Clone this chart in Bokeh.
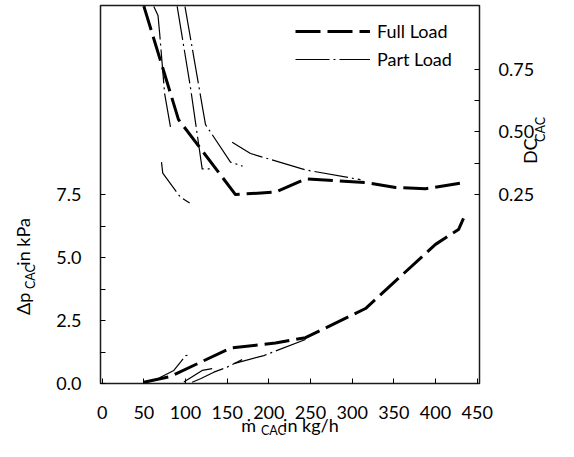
from math import pi
from bokeh.plotting import figure
from bokeh.models import (Range1d, LinearAxis, FixedTicker, NumeralTickFormatter,
                          Legend, LegendItem)
from bokeh.embed import file_html
from bokeh.resources import INLINE

# ---------------- data ----------------
# Full load: discharge coefficient DC_CAC (right axis)
fl_dc_m = [50, 91.6, 160, 208, 244, 316, 352, 388, 434]
fl_dc = [1.0, 0.549, 0.251, 0.261, 0.313, 0.299, 0.279, 0.274, 0.298]
# Full load: pressure drop (left axis, kPa)
fl_dp_m = [50, 82, 154, 208, 244, 316, 400, 427.6, 433.6]
fl_dp = [0.05, 0.28, 1.41, 1.61, 1.82, 2.98, 5.53, 6.12, 6.56]

# Part load: several operating lines, DC_CAC
pl_dc_a_m = [62, 67, 69, 75, 82]
pl_dc_a = [0.998, 0.963, 0.891, 0.651, 0.519]
pl_dc_b_m = [90, 106, 120, 130]
pl_dc_b = [0.999, 0.676, 0.353, 0.353]
pl_dc_c_m = [99.4, 124, 154, 168.4]
pl_dc_c = [0.998, 0.529, 0.380, 0.364]
pl_dc_d_m = [156, 178, 244, 310]
pl_dc_d = [0.459, 0.414, 0.349, 0.310]
pl_dc_e_m = [71.2, 72.7, 94, 105]
pl_dc_e = [0.380, 0.336, 0.240, 0.217]

# Part load: pressure drop
pl_dp_e_m = [66, 70, 86, 94, 100, 106]
pl_dp_e = [0.15, 0.25, 0.52, 0.85, 1.11, 1.14]
pl_dp_b_m = [98, 120, 132]
pl_dp_b = [0.06, 0.52, 0.59]
pl_dp_c_m = [108, 118, 134, 150, 168]
pl_dp_c = [0.05, 0.19, 0.45, 0.65, 0.95]
pl_dp_d_m = [158, 194, 244]
pl_dp_d = [0.79, 1.11, 1.75]

x_ticks = [0, 50, 100, 150, 200, 250, 300, 350, 400, 450]
dp_ticks = [0, 2.5, 5.0, 7.5]
dp_minor = [1.25, 3.75, 6.25]
dc_ticks = [0.25, 0.50, 0.75]
dc_minor = [0.375, 0.625]

# axis titles (main part, subscript); spacing chars only shift them along the axis
EM, EN, T3, TH, HR = "\u2003", "\u2002", "\u2004", "\u2009", "\u200a"
GAP = EM + EN + TH + TH
x_title = ("\u1e41" + GAP + "in kg/h", "CAC" + EM * 3 + T3 + HR)
y_title = ("\u0394p" + GAP + "in kPa" + EM * 10 + EN, "CAC" + EM * 17 + T3 + HR)
r_title = (EM * 2 + TH + HR + "DC", EM * 5 + T3 + TH + "CAC")

FONT = "Lato"
FS = "18px"
SUB = "12.5px"

X0, X1 = -2, 452.8
Y1 = 15.024
p = figure(width=558, height=441, output_backend="svg", toolbar_location=None,
           x_range=Range1d(X0, X1), y_range=Range1d(0, Y1),
           min_border_left=100, min_border_right=79, min_border_top=5,
           min_border_bottom=58)
p.extra_y_ranges = {"dc": Range1d(-0.5, 1.0024)}
p.grid.visible = False
p.outline_line_color = "#1a1a1a"
p.outline_line_width = 1.5
p.background_fill_color = "white"
p.border_fill_color = "white"


def style(ax, fs=FS):
    ax.axis_line_alpha = 0
    ax.major_tick_in = 5
    ax.major_tick_out = 0
    ax.minor_tick_in = 5
    ax.minor_tick_out = 0
    ax.major_tick_line_color = "black"
    ax.minor_tick_line_color = "black"
    ax.major_label_text_font = FONT
    ax.major_label_text_font_size = FS
    ax.major_label_text_color = "black"
    ax.axis_label_text_font = FONT
    ax.axis_label_text_font_size = fs
    ax.axis_label_text_font_style = "normal"
    ax.axis_label_text_color = "black"


def title_axis(side, text, fs, standoff, range_name=None, orient=None):
    kw = {} if range_name is None else {"y_range_name": range_name}
    ax = LinearAxis(ticker=FixedTicker(ticks=[], minor_ticks=[]), axis_label=text, **kw)
    style(ax, fs)
    ax.major_tick_in = 0
    ax.minor_tick_in = 0
    ax.major_label_standoff = 0
    ax.axis_label_standoff = standoff
    if orient is not None:
        ax.axis_label_orientation = orient
    p.add_layout(ax, side)
    return ax


# main axes
xa = p.xaxis[0]
style(xa)
xa.ticker = FixedTicker(ticks=x_ticks, minor_ticks=[])
xa.formatter = NumeralTickFormatter(format="0")
xa.major_label_standoff = 22

ya = p.yaxis[0]
style(ya)
ya.ticker = FixedTicker(ticks=dp_ticks, minor_ticks=dp_minor)
ya.formatter = NumeralTickFormatter(format="0.0")
ya.major_label_standoff = 19

ra = LinearAxis(y_range_name="dc", ticker=FixedTicker(ticks=dc_ticks, minor_ticks=dc_minor),
                formatter=NumeralTickFormatter(format="0.00"))
style(ra, SUB)
ra.major_label_standoff = 19
ra.axis_label = r_title[1]
ra.axis_label_standoff = 3
ra.axis_label_orientation = pi / 2
p.add_layout(ra, "right")

# axis titles with subscripts (extra label-only axes)
title_axis("left", y_title[1], SUB, 16)
title_axis("left", y_title[0], FS, -14)
title_axis("below", x_title[0], FS, -8)
title_axis("below", x_title[1], SUB, -16)
title_axis("right", r_title[0], FS, -29, range_name="dc", orient=pi / 2)

FL = dict(line_color="black", line_width=3, line_dash="25 7", line_join="round")
PL = dict(line_color="black", line_width=1.2, line_dash="34 4 2 4", line_join="round")

r_fl = p.line(fl_dc_m, fl_dc, y_range_name="dc", **FL)
p.line(fl_dp_m, fl_dp, **FL)

r_pl = p.line(pl_dc_a_m, pl_dc_a, y_range_name="dc", **PL)
for xs, ys in [(pl_dc_b_m, pl_dc_b), (pl_dc_c_m, pl_dc_c), (pl_dc_d_m, pl_dc_d), (pl_dc_e_m, pl_dc_e)]:
    p.line(xs, ys, y_range_name="dc", **PL)
for xs, ys in [(pl_dp_e_m, pl_dp_e), (pl_dp_b_m, pl_dp_b), (pl_dp_c_m, pl_dp_c), (pl_dp_d_m, pl_dp_d)]:
    p.line(xs, ys, **PL)

legend = Legend(items=[LegendItem(label="Full Load", renderers=[r_fl]),
                       LegendItem(label="Part Load", renderers=[r_pl])],
                location=(195, 313.3), glyph_width=75, glyph_height=20,
                label_height=20, label_standoff=7, spacing=6, padding=0, margin=0,
                border_line_alpha=0, background_fill_alpha=0,
                label_text_font=FONT, label_text_font_size=FS,
                label_text_color="black")
p.add_layout(legend)

open("out.html", "w").write(file_html(p, INLINE))
